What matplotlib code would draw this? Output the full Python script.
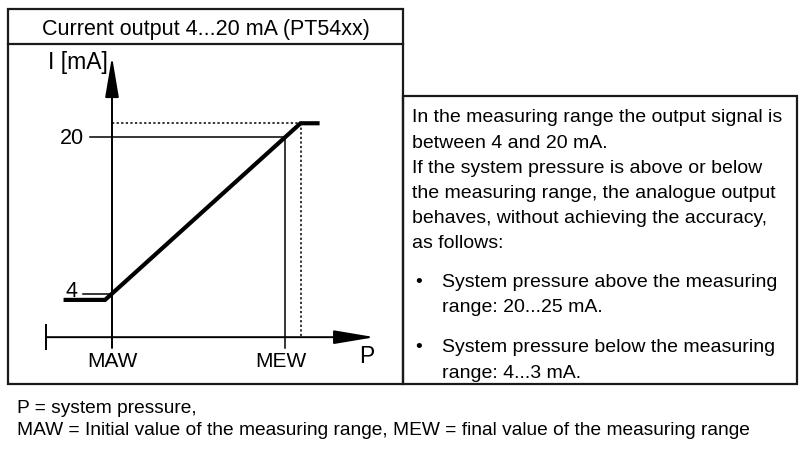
import numpy as np
import matplotlib.pyplot as plt
from matplotlib.patches import Rectangle

plt.rcParams['font.family'] = ['Liberation Sans', 'DejaVu Sans']

# ---- data (P in % of measuring range: MAW = 0, MEW = 100 ; I in mA) ----
p_curve = [-28, -4, 109, 120]
i_curve = [3.4, 3.4, 21.4, 21.4]
x_labels = ['MAW', 'MEW']
x_values = [0, 100]
y_labels = ['4', '20']
y_values = [4, 20]
p_over = 109      # where the curve reaches the upper limit
i_over = 21.4     # upper limit level
i_axis = -0.4     # level of the P axis

title = 'Current output 4...20 mA (PT54xx)'
info_lines = ['In the measuring range the output signal is',
              'between 4 and 20 mA.',
              'If the system pressure is above or below',
              'the measuring range, the analogue output',
              'behaves, without achieving the accuracy,',
              'as follows:']
bullets = [['System pressure above the measuring', 'range: 20...25 mA.'],
           ['System pressure below the measuring', 'range: 4...3 mA.']]
footer = ['P = system pressure,',
          'MAW = Initial value of the measuring range, MEW = final value of the measuring range']

W, H = 802, 455
fig = plt.figure(figsize=(W / 100, H / 100), dpi=100)

# background axes in pixel units for frames and text blocks
bg = fig.add_axes([0, 0, 1, 1])
bg.set_xlim(0, W)
bg.set_ylim(H, 0)
bg.axis('off')

frame_c = '#1a1a1a'
bg.add_patch(Rectangle((8, 9), 395, 375, fill=False, lw=1.6, ec=frame_c))
bg.plot([8, 403], [44, 44], color=frame_c, lw=1.6)
bg.add_patch(Rectangle((403, 96), 394, 288, fill=False, lw=1.6, ec=frame_c))
bg.text(206, 34.5, title, ha='center', va='baseline', fontsize=15.5)

base = [122, 147.5, 173, 198, 223, 248]
for y, s in zip(base, info_lines):
    bg.text(412, y, s, ha='left', va='baseline', fontsize=14)
by = [287, 352]
for y, pair in zip(by, bullets):
    bg.text(415, y, '\u2022', ha='left', va='baseline', fontsize=14)
    bg.text(442, y, pair[0], ha='left', va='baseline', fontsize=14)
    bg.text(442, y + 25.5, pair[1], ha='left', va='baseline', fontsize=14)

bg.text(17, 413, footer[0], ha='left', va='baseline', fontsize=13.8)
bg.text(17, 435, footer[1], ha='left', va='baseline', fontsize=13.8)

# chart axes: P -> px = 112 + 1.73 P ; I -> py = 294 - 9.8125 (I - 4)
sx, sy = 1.73, 9.8125
ax = fig.add_axes([8 / W, 1 - 384 / H, 395 / W, 340 / H])
ax.set_xlim((8 - 112) / sx, (403 - 112) / sx)
ax.set_ylim(4 - (384 - 294) / sy, 4 + (294 - 44) / sy)
ax.axis('off')
ax.patch.set_alpha(0)

lc = 'black'
arrow = dict(arrowstyle='-|>,head_length=2.5,head_width=0.42',
             color=lc, lw=1.4, shrinkA=0, shrinkB=0, mutation_scale=10)
# I axis with arrow
ax.annotate('', xy=(0, 28.2), xytext=(0, -1.5), arrowprops=arrow)
# P axis with arrow
ax.annotate('', xy=(151.8, i_axis), xytext=(-38.2, i_axis), arrowprops=arrow)
ax.plot([-38.2, -38.2], [0.85, -1.6], color=lc, lw=1.4)

# reference lines
ax.plot([-12.7, x_values[1]], [y_values[1], y_values[1]], color=lc, lw=1.1)
ax.plot([x_values[1], x_values[1]], [y_values[1], -1.5], color=lc, lw=1.1)
ax.plot([-16.8, x_values[0]], [y_values[0], y_values[0]], color=lc, lw=1.1)
ax.plot([x_values[0], p_over], [i_over, i_over], color=lc, lw=1.1, ls=(0, (1.5, 1.5)))
ax.plot([p_over, p_over], [i_over, i_axis], color=lc, lw=1.1, ls=(0, (1.5, 1.5)))

# characteristic curve
ax.plot(p_curve, i_curve, color=lc, lw=3, solid_capstyle='butt', solid_joinstyle='miter')

# labels
ax.text(-2.3, 26.9, 'I [mA]', ha='right', va='baseline', fontsize=16.5)
ax.text(-16.2, 19.3, y_labels[1], ha='right', va='baseline', fontsize=15.5)
ax.text(-20.2, 3.7, y_labels[0], ha='right', va='baseline', fontsize=15.5)
ax.text(x_values[0], -3.44, x_labels[0], ha='center', va='baseline', fontsize=15)
ax.text(97.4, -3.44, x_labels[1], ha='center', va='baseline', fontsize=15)
ax.text(142.8, -3.03, 'P', ha='left', va='baseline', fontsize=16.5)

fig.savefig('out.png', dpi=100)
